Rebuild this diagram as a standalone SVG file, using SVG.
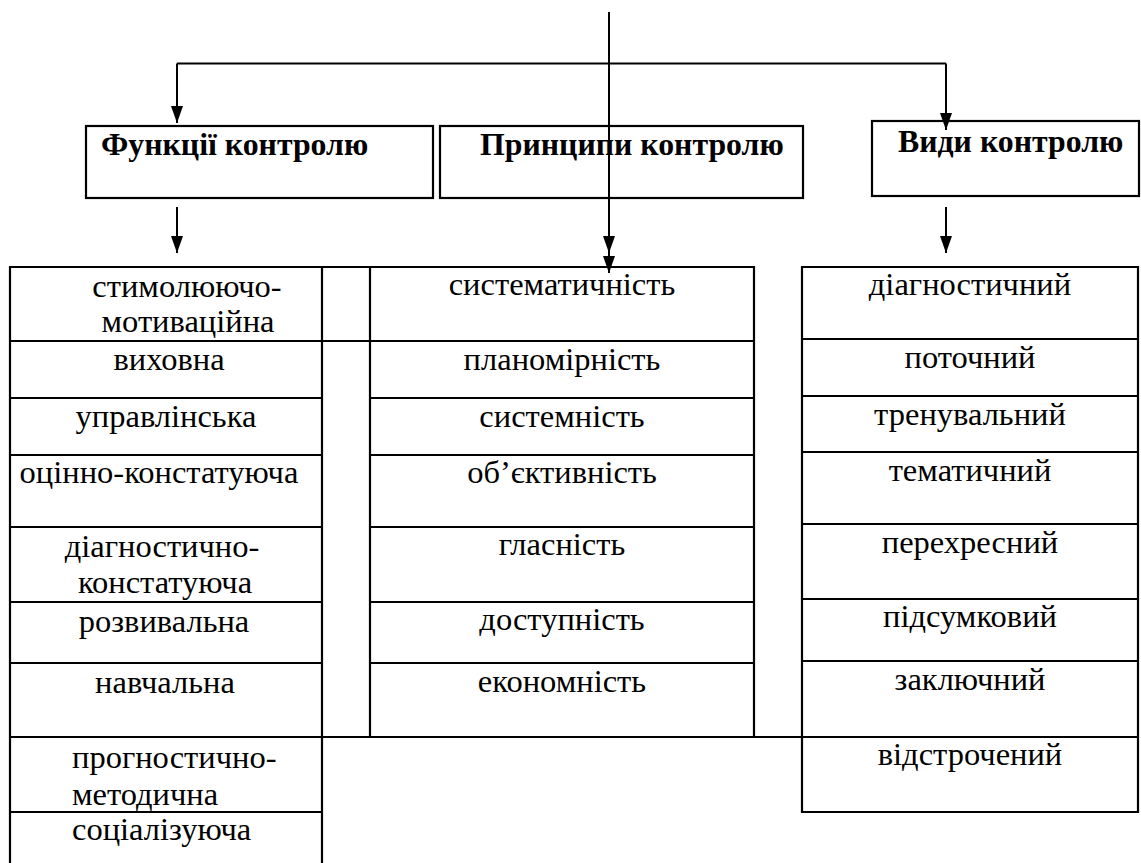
<svg xmlns="http://www.w3.org/2000/svg" width="1141" height="863" viewBox="0 0 1141 863">
<defs>
<marker id="ah" viewBox="0 0 12 17" refX="6" refY="17" markerWidth="12" markerHeight="17" markerUnits="userSpaceOnUse" orient="0">
<path d="M0,0 L12,0 L6,17 Z" fill="#000"/>
</marker>
<style>
.box{stroke:#000;stroke-width:2.2;fill:#fff}
.grid{stroke:#000;stroke-width:2.2;fill:none}
.txt{font-family:"Liberation Serif","Times New Roman",serif;font-size:32.5px;fill:#000}
.t{text-anchor:middle}
.h{font-weight:bold;font-size:31.8px}
.arr{stroke:#000;stroke-width:2;fill:none}
</style>
</defs>
<rect width="1141" height="863" fill="#fff"/>
<g class="txt">
<g id="header-functions">
<rect class="box" x="86" y="126" width="347" height="72"/>
<text class="h" x="101" y="155">Функції контролю</text>
</g>
<g id="header-principles">
<rect class="box" x="440" y="126" width="363" height="72"/>
<text class="h" x="480" y="155">Принципи контролю</text>
</g>
<g id="header-types">
<rect class="box" x="872" y="121" width="267" height="75"/>
<text class="h" x="898" y="152">Види контролю</text>
</g>
<g id="table-grid">
<path class="grid" d="M10,863 V267 H754 V737 M322,863 V267 M370,267 V737 M10,341 H754 M10,398 H322 M370,398 H754 M10,455 H322 M370,455 H754 M10,527 H322 M370,527 H754 M10,602 H322 M370,602 H754 M10,663 H322 M370,663 H754 M10,737 H802 M10,812 H322"/>
<path class="grid" d="M802,267 H1138 V812 H802 Z M802,339 H1138 M802,396 H1138 M802,452 H1138 M802,524 H1138 M802,599 H1138 M802,661 H1138 M802,737 H1138"/>
</g>
<g id="functions-list">
<text class="t" x="187" y="297">стимолюючо-</text>
<text class="t" x="188" y="332">мотиваційна</text>
<text class="t" x="169" y="370">виховна</text>
<text class="t" x="166" y="427">управлінська</text>
<text class="t" x="159" y="483">оцінно-констатуюча</text>
<text class="t" x="162" y="557">діагностично-</text>
<text class="t" x="165" y="593">констатуюча</text>
<text class="t" x="164" y="632">розвивальна</text>
<text class="t" x="165" y="693">навчальна</text>
<text x="72" y="768">прогностично-</text>
<text x="72" y="805">методична</text>
<text x="72" y="840">соціалізуюча</text>
</g>
<g id="principles-list">
<text class="t" x="562" y="295">систематичність</text>
<text class="t" x="562" y="370">планомірність</text>
<text class="t" x="562" y="427">системність</text>
<text class="t" x="562" y="483">об’єктивність</text>
<text class="t" x="562" y="555">гласність</text>
<text class="t" x="562" y="630">доступність</text>
<text class="t" x="562" y="692">економність</text>
</g>
<g id="types-list">
<text class="t" x="970" y="295">діагностичний</text>
<text class="t" x="970" y="368">поточний</text>
<text class="t" x="970" y="425">тренувальний</text>
<text class="t" x="970" y="481">тематичний</text>
<text class="t" x="970" y="553">перехресний</text>
<text class="t" x="970" y="627">підсумковий</text>
<text class="t" x="970" y="690">заключний</text>
<text class="t" x="970" y="765">відстрочений</text>
</g>
</g>
<g id="connectors">
<path class="arr" d="M609,12 V273"/>
<path class="arr" d="M609,12 V253" marker-end="url(#ah)"/>
<path class="arr" d="M609,253 V273" marker-end="url(#ah)"/>
<path class="arr" d="M177,63.5 H946"/>
<path class="arr" d="M177,63.5 V123" marker-end="url(#ah)"/>
<path class="arr" d="M946,63.5 V130" marker-end="url(#ah)"/>
<path class="arr" d="M177,207 V253" marker-end="url(#ah)"/>
<path class="arr" d="M946,207 V253" marker-end="url(#ah)"/>
</g>
</svg>
